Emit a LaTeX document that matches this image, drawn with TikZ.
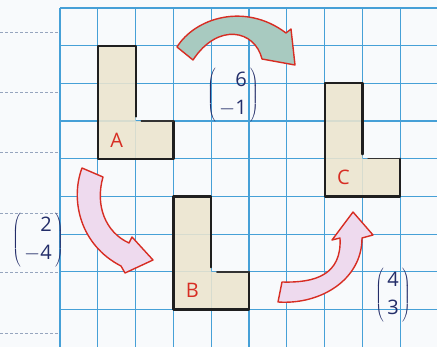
\documentclass[tikz,border=0pt]{standalone}
\usepackage{fontspec}
\newfontfamily\handfont{Open Sans}
\definecolor{gridblue}{RGB}{70,160,215}
\definecolor{cellbeige}{RGB}{236,229,206}
\definecolor{tealfill}{RGB}{168,202,192}
\definecolor{pinkfill}{RGB}{238,218,238}
\definecolor{arrowred}{RGB}{215,45,35}
\definecolor{vecnavy}{RGB}{35,45,105}
\definecolor{paper}{RGB}{248,250,252}
\definecolor{dashgray}{RGB}{150,165,190}
\newcommand\colvec[2]{$\delimiterfactor=780\renewcommand\arraystretch{1.05}\left(\begin{array}{@{\,}r@{\,}}\text{#1}\\ \text{#2}\end{array}\right)$}
\newcommand\text[1]{\hbox{\handfont #1}}
\tikzset{
  gridline/.style={gridblue, line width=1.2pt},
  notebook/.style={dashgray, densely dashed, line width=0.6pt},
  shapefill/.style={fill=cellbeige, fill opacity=0.88},
  outline/.style={draw=black!88, line width=2.2pt, line join=round, line cap=round},
  footline/.style={draw=black!80, line width=1.3pt, line cap=round},
  lbl/.style={text=arrowred, font=\handfont\fontsize{20}{20}\selectfont, inner sep=0pt},
  vec/.style={text=vecnavy, font=\handfont\fontsize{20}{27}\selectfont, inner sep=0pt},
  tealarrow/.style={fill=tealfill, draw=arrowred, line width=1.4pt, line join=round},
  pinkarrow/.style={fill=pinkfill, draw=arrowred, line width=1.4pt, line join=round}
}
\begin{document}
\begin{tikzpicture}[x=1pt,y=-1pt]
\useasboundingbox (0,0) rectangle (437,347);
\clip (0,0) rectangle (437,347);
\fill[paper] (0,0) rectangle (437,347);
\foreach \yy in {32,92,152,213,272,333} \draw[notebook] (0,\yy) -- (60,\yy);
\begin{scope}[shift={(60pt,-8pt)}, x=37.8pt, y=-37.7pt]
  \foreach \i in {0,...,10} \draw[gridline] (\i,0) -- (\i,9.3);
  \foreach \j in {0,...,9} \draw[gridline] (0,\j) -- (10.2,\j);
  % shape A
  \fill[shapefill] (1,1) -- (2,1) -- (2,3) -- (3,3) -- (3,4) -- (1,4) -- cycle;
  \draw[outline] (2,2.88) -- (2,1) -- (1,1) -- (1,4) -- (3,4) -- (3,3);
  \draw[footline] (3,3) -- (2.15,3);
  \node[lbl] (labA) at (1.5,3.5) {A};
  % shape B
  \fill[shapefill] (3,5) -- (4,5) -- (4,7) -- (5,7) -- (5,8) -- (3,8) -- cycle;
  \draw[outline] (4,6.88) -- (4,5) -- (3,5) -- (3,8) -- (5,8) -- (5,7);
  \draw[footline] (5,7) -- (4.15,7);
  \node[lbl] (labB) at (3.5,7.5) {B};
  % shape C
  \fill[shapefill] (7,2) -- (8,2) -- (8,4) -- (9,4) -- (9,5) -- (7,5) -- cycle;
  \draw[outline] (8,3.88) -- (8,2) -- (7,2) -- (7,5) -- (9,5) -- (9,4);
  \draw[footline] (9,4) -- (8.15,4);
  \node[lbl] (labC) at (7.5,4.5) {C};
\end{scope}
% arrow A -> C (teal)
\draw[tealarrow] (177,47) .. controls (195,18) and (245,2) .. (286,33)
  -- (291,29) -- (295,65) -- (262,59)
  .. controls (255,30) and (218,22) .. (193,60) -- cycle;
% arrow A -> B (pink)
\draw[pinkarrow] (82,168) .. controls (70,200) and (80,245) .. (121,266)
  -- (125,273) -- (153,260) -- (132,237) -- (129,243)
  .. controls (105,232) and (95,205) .. (103,177) -- cycle;
% arrow B -> C (pink)
\draw[pinkarrow] (278,302) .. controls (320,305) and (362,280) .. (362,238)
  -- (373,235) -- (353,212) -- (332,240) -- (340,238)
  .. controls (342,275) and (315,283) .. (282,282) -- cycle;
% vectors
\node[vec] (vecAC) at (233,95) {\colvec{6}{$-$1}};
\node[vec] (vecAB) at (38,240) {\colvec{2}{$-$4}};
\node[vec] (vecBC) at (393,295) {\colvec{4}{3}};
\end{tikzpicture}
\end{document}
